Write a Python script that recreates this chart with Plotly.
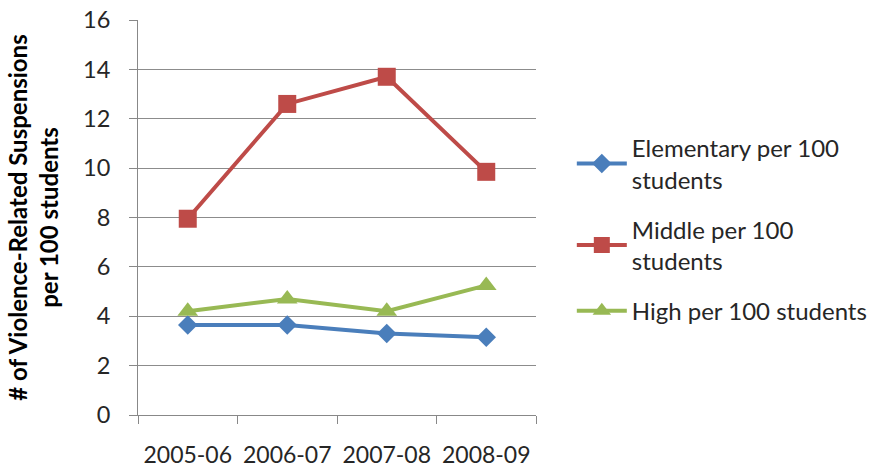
import plotly.graph_objects as go

years = ["2005-06", "2006-07", "2007-08", "2008-09"]
elementary = [3.65, 3.65, 3.3, 3.15]
middle = [7.95, 12.6, 13.7, 9.85]
high = [4.2, 4.7, 4.2, 5.25]

series_names = [
    "Elementary per 100<br>students",
    "Middle per 100<br>students",
    "High per 100 students",
]
series_colors = ["#4A7EBB", "#BE4B48", "#98B954"]
series_symbols = ["diamond", "square", "triangle-up"]
series_sizes = [15, 18, 18]
y_ticks = [0, 2, 4, 6, 8, 10, 12, 14, 16]

FONT = "Lato"
TEXT = "#262626"

fig = go.Figure()
for i, (name, vals) in enumerate(zip(series_names, [elementary, middle, high])):
    fig.add_trace(go.Scatter(
        x=years, y=vals, name=name, mode="lines+markers",
        legendgroup=f"g{i}",
        line=dict(color=series_colors[i], width=4),
        marker=dict(symbol=series_symbols[i], size=series_sizes[i],
                    color=series_colors[i], line=dict(width=0)),
    ))

fig.update_layout(
    width=874, height=468,
    margin=dict(l=138, r=338, t=20, b=53, autoexpand=False),
    paper_bgcolor="white", plot_bgcolor="white",
    font=dict(family=FONT, size=23, color=TEXT),
    showlegend=True,
    legend=dict(
        x=1.09, xanchor="left", y=0.47, yanchor="middle",
        font=dict(family=FONT, size=24, color=TEXT),
        tracegroupgap=16, itemwidth=50,
        bgcolor="rgba(0,0,0,0)",
    ),
)

fig.update_xaxes(
    type="category", tickson="boundaries", range=[-0.5, 3.5],
    automargin=False, tickangle=0,
    showgrid=False, showline=True, linecolor="#888888", linewidth=1,
    ticks="outside", ticklen=8, tickcolor="#888888",
    tickfont=dict(family=FONT, size=23, color=TEXT),
    ticklabelstandoff=19,
)
fig.update_yaxes(
    range=[0, 16], tickvals=y_ticks, automargin=False,
    showgrid=True, gridcolor="#8c8c8c", gridwidth=1,
    showline=True, linecolor="#888888", linewidth=1,
    ticks="outside", ticklen=8, tickcolor="#888888",
    tickfont=dict(family=FONT, size=23.5, color=TEXT),
    ticklabelstandoff=14, zeroline=False,
    title=dict(
        text="# of Violence-Related Suspensions<br>per 100 students",
        font=dict(family=FONT, size=24, color="#000000", weight="bold"),
        standoff=17,
    ),
)

fig.write_html("out.html")
